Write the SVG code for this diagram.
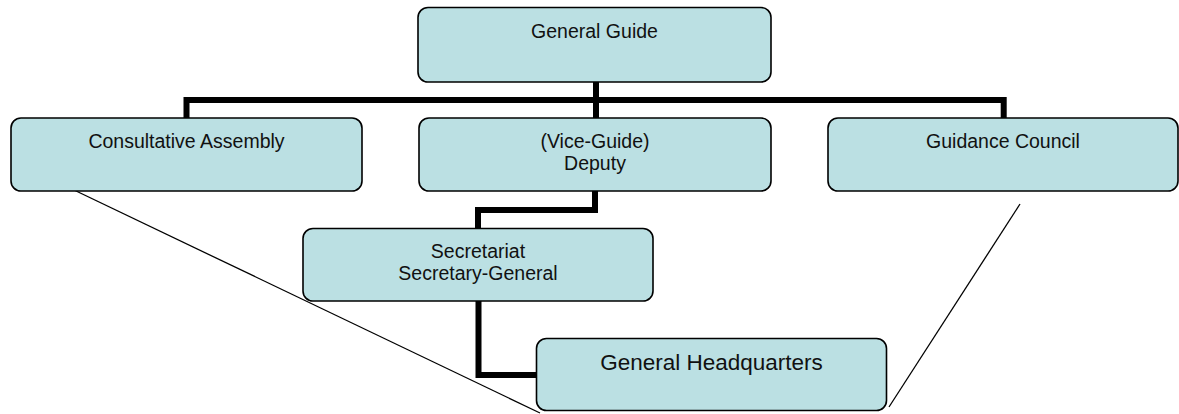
<svg xmlns="http://www.w3.org/2000/svg" width="1179" height="414" viewBox="0 0 1179 414">
<style>
.box{fill:#bbe0e3;stroke:#000;stroke-width:1.6}
.t{font-family:"Liberation Sans",Arial,sans-serif;font-size:19.5px;fill:#111;text-anchor:middle}
.big{font-size:22.5px}
.thick{fill:none;stroke:#000;stroke-width:6;stroke-linejoin:miter;stroke-linecap:butt}
.thin{fill:none;stroke:#000;stroke-width:1.3}
</style>
<rect width="1179" height="414" fill="#fff"/>
<g id="connectors">
<polyline class="thick" points="186.5,118 186.5,100 1003.7,100 1003.7,118"/>
<line class="thick" x1="596" y1="82" x2="596" y2="118"/>
<polyline class="thick" points="595,191 595,210 478,210 478,228"/>
<polyline class="thick" points="478.5,301 478.5,375 537,375"/>
<line class="thin" x1="74" y1="190" x2="540" y2="413"/>
<line class="thin" x1="1020" y1="204" x2="889" y2="407"/>
</g>
<g id="general-guide">
<rect class="box" x="418" y="7.5" width="353" height="74.5" rx="10"/>
<text class="t" x="594.5" y="38">General Guide</text>
</g>
<g id="consultative-assembly">
<rect class="box" x="11" y="118" width="351" height="73" rx="10"/>
<text class="t" x="186.5" y="148">Consultative Assembly</text>
</g>
<g id="vice-guide">
<rect class="box" x="419" y="118" width="352" height="73" rx="10"/>
<text class="t" x="595" y="148">(Vice-Guide)</text>
<text class="t" x="595" y="170">Deputy</text>
</g>
<g id="guidance-council">
<rect class="box" x="828" y="118" width="350" height="73" rx="10"/>
<text class="t" x="1003" y="148">Guidance Council</text>
</g>
<g id="secretariat">
<rect class="box" x="303" y="228.5" width="350" height="72.5" rx="10"/>
<text class="t" x="478" y="258">Secretariat</text>
<text class="t" x="478" y="280">Secretary-General</text>
</g>
<g id="general-headquarters">
<rect class="box" x="536.5" y="338.5" width="350" height="72" rx="10"/>
<text class="t big" x="711.5" y="370">General Headquarters</text>
</g>
</svg>
